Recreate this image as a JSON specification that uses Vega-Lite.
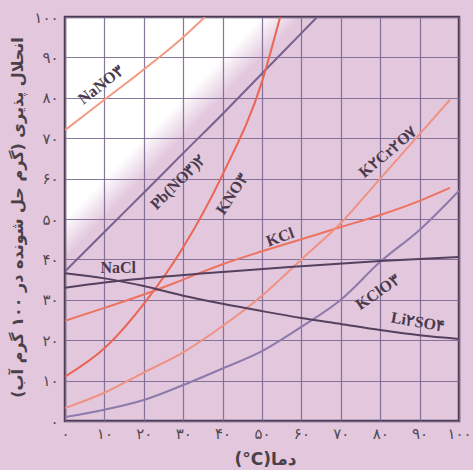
{
  "$schema": "https://vega.github.io/schema/vega-lite/v6.json",
  "width": 394,
  "height": 404,
  "autosize": {"type": "none"},
  "padding": {"left": 65, "top": 17, "right": 14, "bottom": 49},
  "background": "#e2c7dd",
  "config": {
    "font": "DejaVu Sans",
    "view": {
      "stroke": "#4a3a50",
      "strokeWidth": 2.5,
      "fill": {
        "gradient": "linear",
        "x1": 0, "y1": 0, "x2": 1, "y2": 1,
        "stops": [
          {"offset": 0, "color": "#ffffff"},
          {"offset": 0.25, "color": "#ffffff"},
          {"offset": 0.3, "color": "#e2c7dd"},
          {"offset": 1, "color": "#e2c7dd"}
        ]
      }
    }
  },
  "datasets": {
    "curves": [
      {"s": "NaNO3", "t": 0, "v": 72}, {"s": "NaNO3", "t": 10, "v": 79.5}, {"s": "NaNO3", "t": 20, "v": 87}, {"s": "NaNO3", "t": 30, "v": 95}, {"s": "NaNO3", "t": 35.5, "v": 100},
      {"s": "PbNO32", "t": 0, "v": 37}, {"s": "PbNO32", "t": 10, "v": 46.8}, {"s": "PbNO32", "t": 20, "v": 56.5}, {"s": "PbNO32", "t": 30, "v": 66.3}, {"s": "PbNO32", "t": 40, "v": 76}, {"s": "PbNO32", "t": 50, "v": 86}, {"s": "PbNO32", "t": 60, "v": 96}, {"s": "PbNO32", "t": 64, "v": 100},
      {"s": "KNO3", "t": 0, "v": 11}, {"s": "KNO3", "t": 10, "v": 18}, {"s": "KNO3", "t": 20, "v": 29}, {"s": "KNO3", "t": 30, "v": 43}, {"s": "KNO3", "t": 40, "v": 61}, {"s": "KNO3", "t": 50, "v": 84}, {"s": "KNO3", "t": 54.6, "v": 100},
      {"s": "KCl", "t": 0, "v": 24.8}, {"s": "KCl", "t": 10, "v": 28}, {"s": "KCl", "t": 20, "v": 31.3}, {"s": "KCl", "t": 30, "v": 35}, {"s": "KCl", "t": 40, "v": 38.8}, {"s": "KCl", "t": 50, "v": 42}, {"s": "KCl", "t": 60, "v": 45}, {"s": "KCl", "t": 70, "v": 48}, {"s": "KCl", "t": 80, "v": 51}, {"s": "KCl", "t": 90, "v": 54.5}, {"s": "KCl", "t": 97.7, "v": 57.7},
      {"s": "K2Cr2O7", "t": 0, "v": 3.2}, {"s": "K2Cr2O7", "t": 10, "v": 7}, {"s": "K2Cr2O7", "t": 20, "v": 12}, {"s": "K2Cr2O7", "t": 30, "v": 17}, {"s": "K2Cr2O7", "t": 40, "v": 23.5}, {"s": "K2Cr2O7", "t": 50, "v": 31}, {"s": "K2Cr2O7", "t": 60, "v": 40}, {"s": "K2Cr2O7", "t": 70, "v": 49}, {"s": "K2Cr2O7", "t": 80, "v": 60}, {"s": "K2Cr2O7", "t": 90, "v": 71}, {"s": "K2Cr2O7", "t": 97.7, "v": 79.5},
      {"s": "KClO3", "t": 0, "v": 1}, {"s": "KClO3", "t": 10, "v": 2.8}, {"s": "KClO3", "t": 20, "v": 5.2}, {"s": "KClO3", "t": 30, "v": 8.9}, {"s": "KClO3", "t": 40, "v": 13}, {"s": "KClO3", "t": 50, "v": 17.3}, {"s": "KClO3", "t": 60, "v": 23.3}, {"s": "KClO3", "t": 70, "v": 30}, {"s": "KClO3", "t": 80, "v": 39.4}, {"s": "KClO3", "t": 90, "v": 47.3}, {"s": "KClO3", "t": 100, "v": 57},
      {"s": "NaCl", "t": 0, "v": 33}, {"s": "NaCl", "t": 10, "v": 34.3}, {"s": "NaCl", "t": 20, "v": 35.3}, {"s": "NaCl", "t": 40, "v": 36.9}, {"s": "NaCl", "t": 60, "v": 38.3}, {"s": "NaCl", "t": 80, "v": 39.6}, {"s": "NaCl", "t": 100, "v": 40.6},
      {"s": "Li2SO4", "t": 0, "v": 36.6}, {"s": "Li2SO4", "t": 10, "v": 35.3}, {"s": "Li2SO4", "t": 20, "v": 33.4}, {"s": "Li2SO4", "t": 30, "v": 31}, {"s": "Li2SO4", "t": 40, "v": 29}, {"s": "Li2SO4", "t": 50, "v": 27.2}, {"s": "Li2SO4", "t": 60, "v": 25.5}, {"s": "Li2SO4", "t": 70, "v": 24}, {"s": "Li2SO4", "t": 80, "v": 22.5}, {"s": "Li2SO4", "t": 90, "v": 21.2}, {"s": "Li2SO4", "t": 100, "v": 20.3}
    ],
    "labels": [
      {"name": "NaNO3", "label": "NaNO۳", "t": 9.1, "v": 83.2},
      {"name": "PbNO32", "label": "Pb(NO۳)۲", "t": 28.7, "v": 59.2},
      {"name": "KNO3", "label": "KNO۳", "t": 42.4, "v": 56.2},
      {"name": "KCl", "label": "KCl", "t": 54.6, "v": 45.5},
      {"name": "K2Cr2O7", "label": "K۲Cr۲O۷", "t": 82, "v": 66.6},
      {"name": "NaCl", "label": "NaCl", "t": 13.5, "v": 37.9},
      {"name": "KClO3", "label": "KClO۳", "t": 79.4, "v": 31.9},
      {"name": "Li2SO4", "label": "Li۲SO۴", "t": 89.6, "v": 24.5}
    ]
  },
  "encoding": {
    "x": {
      "field": "t", "type": "quantitative",
      "scale": {"domain": [0, 100], "nice": false, "zero": false},
      "axis": {
        "values": [0, 10, 20, 30, 40, 50, 60, 70, 80, 90, 100],
        "format": "d",
        "labelExpr": "replace(replace(replace(replace(replace(replace(replace(replace(replace(replace(datum.label,regexp('0','g'),'۰'),regexp('1','g'),'۱'),regexp('2','g'),'۲'),regexp('3','g'),'۳'),regexp('4','g'),'۴'),regexp('5','g'),'۵'),regexp('6','g'),'۶'),regexp('7','g'),'۷'),regexp('8','g'),'۸'),regexp('9','g'),'۹')",
        "domain": false, "ticks": false, "labelPadding": 5,
        "labelFontSize": 15, "labelColor": "#4f4a50", "labelFlush": false,
        "grid": true, "gridColor": "#7a6890", "gridWidth": 1.2, "gridOpacity": 0.9,
        "title": "(°C)دما", "titleFontSize": 17, "titleFontWeight": "bold", "titleColor": "#4a4048",
        "titleX": 200, "titleY": 38, "titleBaseline": "middle", "titleAlign": "center"
      }
    },
    "y": {
      "field": "v", "type": "quantitative",
      "scale": {"domain": [0, 100], "nice": false, "zero": false},
      "axis": {
        "values": [0, 10, 20, 30, 40, 50, 60, 70, 80, 90, 100],
        "format": "d",
        "labelExpr": "replace(replace(replace(replace(replace(replace(replace(replace(replace(replace(datum.label,regexp('0','g'),'۰'),regexp('1','g'),'۱'),regexp('2','g'),'۲'),regexp('3','g'),'۳'),regexp('4','g'),'۴'),regexp('5','g'),'۵'),regexp('6','g'),'۶'),regexp('7','g'),'۷'),regexp('8','g'),'۸'),regexp('9','g'),'۹')",
        "domain": false, "ticks": false, "labelPadding": 7,
        "labelFontSize": 15, "labelColor": "#4f4a50", "labelFlush": false,
        "grid": true, "gridColor": "#7a6890", "gridWidth": 1.2, "gridOpacity": 0.9,
        "title": "انحلال پذیری (گرم حل شونده در ۱۰۰ گرم آب)\u200f",
        "titleFontSize": 16, "titleFontWeight": "bold", "titleColor": "#4a4048",
        "titleX": -48, "titleY": 200, "titleAngle": -90, "titleBaseline": "middle", "titleAlign": "center"
      }
    }
  },
  "layer": [
    {
      "data": {"name": "curves"},
      "mark": {"type": "line", "interpolate": "monotone", "strokeWidth": 2, "clip": true},
      "encoding": {
        "color": {
          "field": "s", "type": "nominal", "legend": null,
          "scale": {
            "domain": ["NaNO3", "PbNO32", "KNO3", "KCl", "K2Cr2O7", "KClO3", "NaCl", "Li2SO4"],
            "range": ["#f39a80", "#76608f", "#ec6452", "#ee7260", "#f09282", "#8c7aab", "#55405e", "#55405e"]
          }
        },
        "detail": {"field": "s"}
      }
    },
    {"data": {"name": "labels"}, "transform": [{"filter": "datum.name == 'NaNO3'"}], "mark": {"type": "text", "angle": -38, "font": "Liberation Serif", "fontWeight": "bold", "fontSize": 16, "color": "#4a3a4c"}, "encoding": {"text": {"field": "label"}}},
    {"data": {"name": "labels"}, "transform": [{"filter": "datum.name == 'PbNO32'"}], "mark": {"type": "text", "angle": -45, "font": "Liberation Serif", "fontWeight": "bold", "fontSize": 16, "color": "#4a3a4c"}, "encoding": {"text": {"field": "label"}}},
    {"data": {"name": "labels"}, "transform": [{"filter": "datum.name == 'KNO3'"}], "mark": {"type": "text", "angle": -57, "font": "Liberation Serif", "fontWeight": "bold", "fontSize": 16, "color": "#4a3a4c"}, "encoding": {"text": {"field": "label"}}},
    {"data": {"name": "labels"}, "transform": [{"filter": "datum.name == 'KCl'"}], "mark": {"type": "text", "angle": -20, "font": "Liberation Serif", "fontWeight": "bold", "fontSize": 16, "color": "#4a3a4c"}, "encoding": {"text": {"field": "label"}}},
    {"data": {"name": "labels"}, "transform": [{"filter": "datum.name == 'K2Cr2O7'"}], "mark": {"type": "text", "angle": -40, "font": "Liberation Serif", "fontWeight": "bold", "fontSize": 16, "color": "#4a3a4c"}, "encoding": {"text": {"field": "label"}}},
    {"data": {"name": "labels"}, "transform": [{"filter": "datum.name == 'NaCl'"}], "mark": {"type": "text", "angle": 0, "font": "Liberation Serif", "fontWeight": "bold", "fontSize": 16, "color": "#4a3a4c"}, "encoding": {"text": {"field": "label"}}},
    {"data": {"name": "labels"}, "transform": [{"filter": "datum.name == 'KClO3'"}], "mark": {"type": "text", "angle": -35, "font": "Liberation Serif", "fontWeight": "bold", "fontSize": 16, "color": "#4a3a4c"}, "encoding": {"text": {"field": "label"}}},
    {"data": {"name": "labels"}, "transform": [{"filter": "datum.name == 'Li2SO4'"}], "mark": {"type": "text", "angle": 10, "font": "Liberation Serif", "fontWeight": "bold", "fontSize": 16, "color": "#4a3a4c"}, "encoding": {"text": {"field": "label"}}}
  ]
}
